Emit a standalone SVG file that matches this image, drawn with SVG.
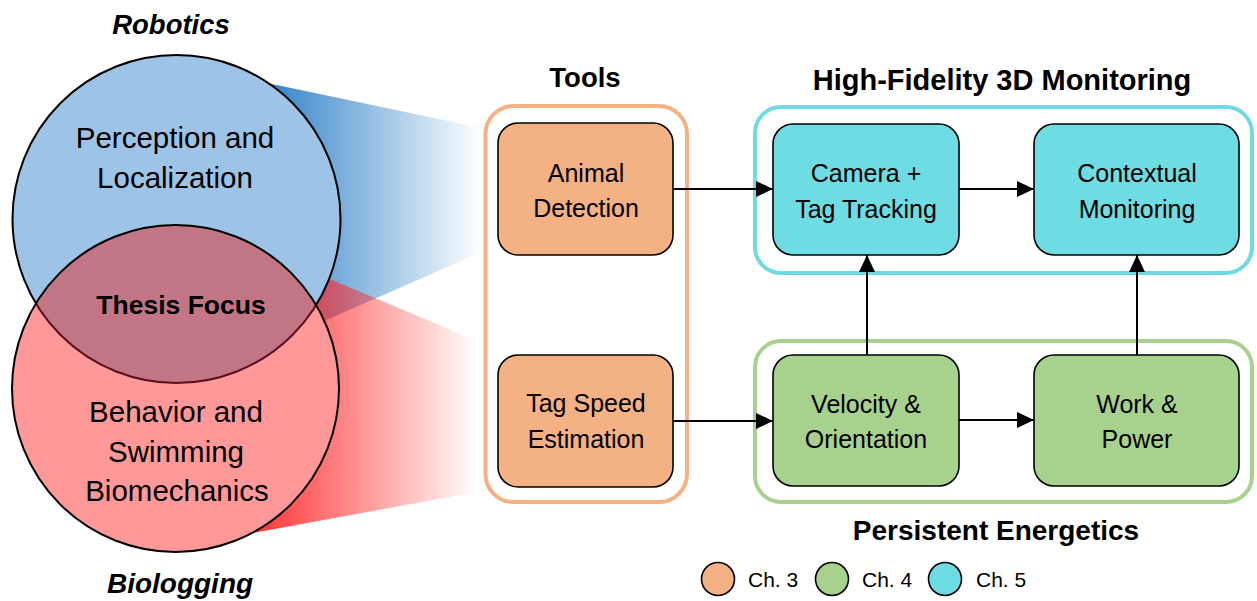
<svg xmlns="http://www.w3.org/2000/svg" width="1257" height="601" viewBox="0 0 1257 601">
  <style>
    text { font-family: "Liberation Sans", Arial, sans-serif; fill: #000; text-anchor: middle; }
    .venn { font-size: 29.5px; }
    .title { font-size: 27.5px; font-weight: bold; }
    .field { font-size: 27.5px; font-weight: bold; font-style: italic; }
    .label { font-size: 25px; }
    .legend { font-size: 21px; text-anchor: start; }
    .node { stroke: #000; stroke-width: 1.6; }
    .orange { fill: #F4B183; }
    .green { fill: #A9D18E; }
    .cyan { fill: #6EDCE3; }
    .group { fill: none; stroke-width: 4; }
    .edge { stroke: #000; stroke-width: 2; fill: none; marker-end: url(#arrow); }
  </style>
  <defs>
    <marker id="arrow" viewBox="0 0 17 16" refX="17" refY="8" markerWidth="17" markerHeight="16" markerUnits="userSpaceOnUse" orient="auto">
      <path d="M0,0 L17,8 L0,16 Z" fill="#000"/>
    </marker>
    <linearGradient id="blueFade" gradientUnits="userSpaceOnUse" x1="280" y1="0" x2="482" y2="0">
      <stop offset="0" stop-color="#3F8ACB" stop-opacity="1"/>
      <stop offset="1" stop-color="#3F8ACB" stop-opacity="0"/>
    </linearGradient>
    <linearGradient id="redFade" gradientUnits="userSpaceOnUse" x1="255" y1="0" x2="478" y2="0">
      <stop offset="0" stop-color="#FF2A2A" stop-opacity="0.95"/>
      <stop offset="1" stop-color="#FF2A2A" stop-opacity="0"/>
    </linearGradient>
    <clipPath id="blueDisc">
      <circle cx="176.5" cy="219" r="164"/>
    </clipPath>
    <clipPath id="redDisc">
      <circle cx="175.5" cy="388.5" r="163.5"/>
    </clipPath>
  </defs>

  <!-- projection wedges behind the Venn circles -->
  <g id="wedges">
    <polygon points="200,69 482,128 482,252 200,375" fill="url(#blueFade)"/>
    <polygon points="220,233 482,343 482,491 220,539" fill="url(#redFade)"/>
  </g>

  <!-- Venn diagram -->
  <g id="venn">
    <circle cx="176.5" cy="219" r="164" fill="#9DC3E6" stroke="#000" stroke-width="2"/>
    <circle cx="175.5" cy="388.5" r="163.5" fill="#FF9999"/>
    <circle cx="175.5" cy="388.5" r="163.5" fill="#C17585" clip-path="url(#blueDisc)"/>
    <circle cx="176.5" cy="219" r="164" fill="none" stroke="#5A0F1C" stroke-width="2" clip-path="url(#redDisc)"/>
    <circle cx="175.5" cy="388.5" r="163.5" fill="none" stroke="#000" stroke-width="2"/>
    <text class="field" x="171" y="34">Robotics</text>
    <text class="venn" x="175" y="148">Perception and</text>
    <text class="venn" x="175" y="188">Localization</text>
    <text class="title" style="font-size:26.5px" x="181" y="314">Thesis Focus</text>
    <text class="venn" x="176" y="422">Behavior and</text>
    <text class="venn" x="176" y="462">Swimming</text>
    <text class="venn" x="177" y="501">Biomechanics</text>
    <text class="field" style="font-size:28px" x="180" y="593">Biologging</text>
  </g>

  <!-- chapter groupings -->
  <g id="tools">
    <rect class="group" x="485.5" y="106" width="201.5" height="396" rx="28" stroke="#F4B183"/>
    <text class="title" x="585" y="87">Tools</text>
  </g>
  <g id="monitoring">
    <rect class="group" x="755" y="107" width="497" height="166" rx="26" stroke="#70D9E1"/>
    <text class="title" style="font-size:29px" x="1002" y="90">High-Fidelity 3D Monitoring</text>
  </g>
  <g id="energetics">
    <rect class="group" x="755" y="341" width="497" height="161" rx="26" stroke="#A9D18E"/>
    <text class="title" style="font-size:28px" x="996" y="540">Persistent Energetics</text>
  </g>

  <!-- connectors -->
  <g id="connectors">
    <line class="edge" x1="673" y1="189" x2="773" y2="189"/>
    <line class="edge" x1="673" y1="421" x2="773" y2="421"/>
    <line class="edge" x1="959" y1="189" x2="1034" y2="189"/>
    <line class="edge" x1="959" y1="420" x2="1034" y2="420"/>
    <line class="edge" x1="867" y1="355" x2="867" y2="255"/>
    <line class="edge" x1="1137" y1="355" x2="1137" y2="255"/>
  </g>

  <!-- nodes -->
  <g id="animal-detection">
    <rect class="node orange" x="498" y="123" width="175" height="132" rx="20"/>
    <text class="label" x="586" y="182">Animal</text>
    <text class="label" x="586" y="217">Detection</text>
  </g>
  <g id="tag-speed-estimation">
    <rect class="node orange" x="498" y="355" width="175" height="132" rx="20"/>
    <text class="label" x="586" y="412">Tag Speed</text>
    <text class="label" x="586" y="448">Estimation</text>
  </g>
  <g id="camera-tag-tracking">
    <rect class="node cyan" x="773" y="124" width="186" height="131" rx="20"/>
    <text class="label" x="866" y="182">Camera +</text>
    <text class="label" x="866" y="218">Tag Tracking</text>
  </g>
  <g id="contextual-monitoring">
    <rect class="node cyan" x="1034" y="124" width="205" height="131" rx="20"/>
    <text class="label" x="1137" y="182">Contextual</text>
    <text class="label" x="1137" y="218">Monitoring</text>
  </g>
  <g id="velocity-orientation">
    <rect class="node green" x="773" y="355" width="186" height="131" rx="20"/>
    <text class="label" x="866" y="413">Velocity &amp;</text>
    <text class="label" x="866" y="448">Orientation</text>
  </g>
  <g id="work-power">
    <rect class="node green" x="1034" y="355" width="205" height="131" rx="20"/>
    <text class="label" x="1137" y="413">Work &amp;</text>
    <text class="label" x="1137" y="448">Power</text>
  </g>

  <!-- legend -->
  <g id="legend">
    <circle class="node orange" cx="718" cy="579" r="16.5"/>
    <text class="legend" x="748" y="587">Ch. 3</text>
    <circle class="node green" cx="832" cy="579" r="16.5"/>
    <text class="legend" x="862" y="587">Ch. 4</text>
    <circle class="node cyan" cx="945" cy="579" r="16.5"/>
    <text class="legend" x="976" y="587">Ch. 5</text>
  </g>
</svg>
